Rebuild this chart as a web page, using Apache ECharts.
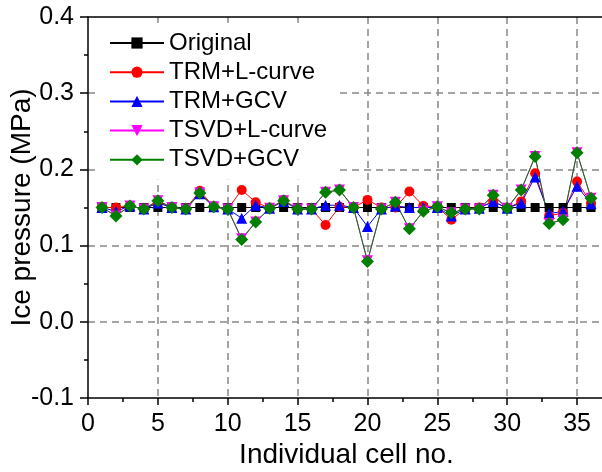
<!DOCTYPE html>
<html>
<head>
<meta charset="utf-8">
<script src="https://cdn.jsdelivr.net/npm/echarts@6/dist/echarts.min.js"></script>
<style>html,body{margin:0;padding:0;background:#fff;}#c{width:602px;height:472px;}</style>
</head>
<body>
<div id="c"></div>
<script>
const cells = [1,2,3,4,5,6,7,8,9,10,11,12,13,14,15,16,17,18,19,20,21,22,23,24,25,26,27,28,29,30,31,32,33,34,35,36];
const original = [0.150,0.150,0.150,0.150,0.150,0.150,0.150,0.150,0.150,0.150,0.150,0.150,0.150,0.150,0.150,0.150,0.150,0.150,0.150,0.150,0.150,0.150,0.150,0.150,0.150,0.150,0.150,0.150,0.150,0.150,0.150,0.150,0.150,0.150,0.150,0.150];
const trmLcurve = [0.150,0.150,0.152,0.148,0.157,0.150,0.148,0.172,0.151,0.148,0.173,0.157,0.149,0.160,0.148,0.148,0.127,0.151,0.150,0.160,0.150,0.150,0.171,0.152,0.151,0.134,0.148,0.150,0.158,0.149,0.158,0.195,0.139,0.143,0.184,0.156];
const trmGcv = [0.150,0.145,0.152,0.148,0.156,0.150,0.148,0.168,0.151,0.148,0.136,0.153,0.149,0.158,0.148,0.148,0.153,0.153,0.150,0.125,0.148,0.152,0.150,0.150,0.150,0.139,0.148,0.149,0.158,0.149,0.156,0.190,0.142,0.145,0.178,0.155];
const tsvdLcurve = [0.150,0.139,0.152,0.148,0.159,0.150,0.148,0.169,0.151,0.148,0.109,0.131,0.149,0.159,0.148,0.148,0.170,0.173,0.150,0.080,0.148,0.157,0.122,0.145,0.151,0.143,0.148,0.148,0.166,0.149,0.173,0.217,0.129,0.134,0.222,0.162];
const tsvdGcv = [0.150,0.139,0.152,0.148,0.159,0.150,0.148,0.169,0.151,0.148,0.108,0.131,0.149,0.159,0.148,0.148,0.170,0.173,0.150,0.079,0.148,0.157,0.122,0.145,0.151,0.143,0.148,0.148,0.166,0.149,0.173,0.217,0.129,0.134,0.222,0.162];
const seriesNames = ['Original','TRM+L-curve','TRM+GCV','TSVD+L-curve','TSVD+GCV'];

const FONT = 'Liberation Sans, Arial, sans-serif';
function pairs(vals){ return cells.map((c,i)=>[c, vals[i]]); }
function mk(name, vals, color, symbol, size, rotate){
  return {
    name: name, type: 'line', data: pairs(vals),
    symbol: symbol, symbolSize: size, symbolRotate: rotate || 0,
    showAllSymbol: true,
    itemStyle: {color: color},
    lineStyle: {color: color, width: 1},
    animation: false
  };
}
const chart = echarts.init(document.getElementById('c'), null, {renderer:'canvas'});
const gridDash = {show: true, lineStyle: {color: '#888888', width: 1.5, type: [7,5]}, showMinLine: false, showMaxLine: false};
chart.setOption({
  backgroundColor: '#ffffff',
  animation: false,
  grid: {left: 88, top: 17, bottom: 74, right: -3, containLabel: false, outerBoundsMode: 'none'},
  legend: {
    left: 96, top: 23,
    orient: 'vertical',
    backgroundColor: '#ffffff',
    padding: [8, 8, 8, 13],
    itemWidth: 54, itemHeight: 14, itemGap: 5.2,
    textStyle: {fontFamily: FONT, fontSize: 24, color: '#000', lineHeight: 24, padding: [0,0,0,0]},
    data: seriesNames
  },
  xAxis: [{
    type: 'value', min: 0, max: 37, interval: 5,
    name: 'Individual cell no.', nameLocation: 'middle', nameGap: 43, nameMoveOverlap: false,
    nameTextStyle: {fontFamily: FONT, fontSize: 28, color: '#000'},
    axisLine: {show: true, onZero: false, lineStyle: {color: '#000', width: 1.5}},
    axisTick: {show: true, inside: false, length: 7, lineStyle: {color: '#000', width: 1.5}},
    minorTick: {show: true, splitNumber: 2, length: 4, lineStyle: {color: '#000', width: 1.5}},
    axisLabel: {fontFamily: FONT, fontSize: 25, color: '#000', margin: 14, showMaxLabel: false},
    splitLine: gridDash
  }, {
    type: 'value', position: 'top', min: 0, max: 37,
    axisLine: {show: true, onZero: false, lineStyle: {color: '#000', width: 1.5}},
    axisTick: {show: false}, axisLabel: {show: false}, splitLine: {show: false}
  }],
  yAxis: {
    type: 'value', min: -0.1, max: 0.4, interval: 0.1,
    name: 'Ice pressure (MPa)', nameLocation: 'middle', nameGap: 52, nameMoveOverlap: false,
    nameTextStyle: {fontFamily: FONT, fontSize: 28, color: '#000'},
    axisLine: {show: true, onZero: false, lineStyle: {color: '#000', width: 1.5}},
    axisTick: {show: true, inside: false, length: 8, lineStyle: {color: '#000', width: 1.5}},
    minorTick: {show: true, splitNumber: 2, length: 4, lineStyle: {color: '#000', width: 1.5}},
    axisLabel: {fontFamily: FONT, fontSize: 25, color: '#000', margin: 14,
      formatter: v => v.toFixed(1)},
    splitLine: gridDash
  },
  series: [
    mk(seriesNames[0], original, '#000000', 'rect', 9),
    mk(seriesNames[1], trmLcurve, '#ff0000', 'circle', 10),
    mk(seriesNames[2], trmGcv, '#0000ff', 'triangle', 11),
    mk(seriesNames[3], tsvdLcurve, '#ff00ff', 'triangle', 11, 180),
    mk(seriesNames[4], tsvdGcv, '#007f00', 'diamond', 13)
  ]
});
</script>
</body>
</html>
